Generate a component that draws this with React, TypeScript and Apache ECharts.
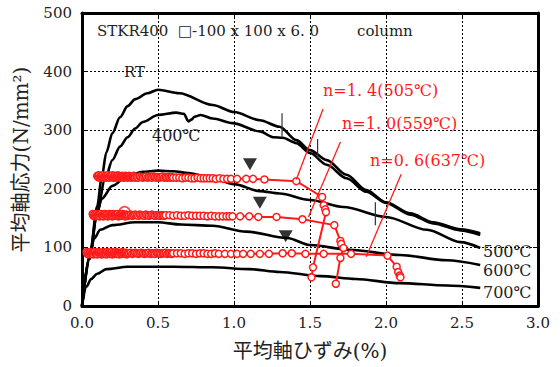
import React, { useEffect, useRef } from "react";
import * as echarts from "echarts";

// ---------- data ----------
const rtX = [0, 0.05, 0.1, 0.13, 0.16, 0.2, 0.25, 0.3, 0.35, 0.43, 0.5, 0.64, 0.86, 1.0, 1.17, 1.3, 1.41, 1.5, 1.61, 1.74, 1.87, 2.0, 2.16, 2.31, 2.49, 2.62];
const rtY = [0, 85, 170, 220, 262, 295, 322, 341, 353, 363, 369, 363, 343, 331, 317, 306, 283, 266, 249, 224, 198, 177, 158, 143, 131, 124];

const t400X = [0, 0.05, 0.1, 0.15, 0.2, 0.25, 0.3, 0.35, 0.4, 0.5, 0.62, 0.67, 0.7, 0.72, 0.74, 0.78, 0.86, 0.99, 1.17, 1.26, 1.32, 1.41, 1.5, 1.61, 1.74, 1.87, 2.0, 2.16, 2.31, 2.49, 2.62];
const t400Y = [0, 80, 160, 215, 249, 272, 288, 303, 314, 326, 330, 328, 315, 318, 323, 326, 320, 312, 298, 288, 287, 278, 261, 241, 218, 195, 176, 156, 141, 129, 121];

const t500X = [0, 0.05, 0.1, 0.13, 0.2, 0.3, 0.4, 0.5, 0.6, 0.7, 0.86, 1.0, 1.17, 1.3, 1.5, 1.72, 2.0, 2.27, 2.49, 2.62];
const t500Y = [0, 85, 160, 183, 205, 222, 229, 231, 230, 227, 218, 208, 196, 192, 181, 169, 152, 130, 109, 99];

const t600X = [0, 0.05, 0.08, 0.12, 0.2, 0.35, 0.5, 0.65, 0.86, 1.08, 1.35, 1.5, 1.76, 2.09, 2.4, 2.62];
const t600Y = [0, 85, 115, 130, 138, 143, 143, 139, 137, 127, 116, 104, 96, 87, 78, 70];

const t700X = [0, 0.03, 0.06, 0.1, 0.16, 0.3, 0.6, 0.86, 1.1, 1.3, 1.57, 1.8, 2.09, 2.4, 2.62];
const t700Y = [0, 33, 46, 55, 63, 67, 67, 66, 63, 58, 51, 46, 39, 35, 31];

// n = 1.4 (505℃)
const n14X = [
  0.100, 0.105, 0.110, 0.115, 0.120, 0.125, 0.130, 0.135, 0.140, 0.145,
  0.150, 0.155, 0.160, 0.165, 0.170, 0.175, 0.180, 0.185, 0.190, 0.195,
  0.200, 0.205, 0.210, 0.215, 0.220, 0.225, 0.230, 0.235, 0.240, 0.245,
  0.250, 0.255, 0.260, 0.265, 0.270, 0.275, 0.280, 0.285, 0.290, 0.295,
  0.300, 0.305, 0.310, 0.315, 0.320, 0.325, 0.330, 0.335, 0.340, 0.345,
  0.350,
  0.36, 0.37, 0.38, 0.39, 0.40, 0.41, 0.42, 0.43, 0.44, 0.45, 0.46, 0.47, 0.48,
  0.49, 0.50, 0.51, 0.52, 0.53, 0.54, 0.55, 0.56, 0.57, 0.58, 0.59, 0.60,
  0.62, 0.64, 0.66, 0.68, 0.70, 0.72, 0.74, 0.76, 0.78, 0.80, 0.82, 0.84, 0.86, 0.88,
  0.905, 0.93, 0.955, 0.98, 1.02, 1.08, 1.125, 1.20, 1.41, 1.58, 1.59, 1.60, 1.605, 1.52, 1.51,
];
const n14Y = [
  222, 220, 223, 219, 221, 222, 220, 223, 219, 221,
  220, 222, 219, 221, 223, 220, 219, 222, 221, 220,
  223, 219, 221, 222, 220, 219, 221, 223, 220, 222,
  219, 221, 220, 222, 221, 219, 220, 222, 221, 220,
  219, 221, 222, 220, 221, 219, 220, 221, 222, 220,
  219,
  220, 219, 221, 220, 219, 220, 221, 219, 220, 220, 219, 221, 220,
  219, 220, 219, 220, 221, 219, 220, 219, 220, 219, 220, 219,
  219, 219, 218, 219, 219, 218, 218, 219, 218, 218, 218, 218, 218, 217,
  218, 217, 217, 217, 217, 217, 217, 216, 213, 186, 172, 165, 160, 66, 49,
];

// n = 1.0 (559℃)
const n10X = [
  0.070, 0.075, 0.080, 0.085, 0.090, 0.095, 0.100, 0.105, 0.110, 0.115,
  0.120, 0.125, 0.130, 0.135, 0.140, 0.145, 0.150, 0.155, 0.160, 0.165,
  0.170, 0.175, 0.180, 0.185, 0.190, 0.195, 0.200, 0.205, 0.210, 0.215,
  0.220, 0.225, 0.230, 0.235, 0.240, 0.245, 0.250, 0.255, 0.260, 0.265,
  0.270, 0.275, 0.280, 0.285, 0.290, 0.295, 0.300,
  0.31, 0.32, 0.33, 0.34, 0.35, 0.36, 0.37, 0.38, 0.39, 0.40, 0.41, 0.42, 0.43,
  0.44, 0.45, 0.46, 0.47, 0.48, 0.49, 0.50, 0.51, 0.52, 0.53, 0.54, 0.55,
  0.575, 0.60, 0.625, 0.65, 0.675, 0.70, 0.725, 0.75, 0.775, 0.80, 0.825, 0.85,
  0.875, 0.90, 0.925, 0.95, 0.97, 0.99,
  1.04, 1.10, 1.16, 1.28, 1.45, 1.66, 1.70, 1.705, 1.72, 1.70, 1.67,
];
const n10Y = [
  157, 154, 156, 153, 155, 157, 154, 156, 155, 153,
  156, 157, 154, 155, 153, 156, 157, 155, 154, 156,
  153, 155, 157, 154, 156, 155, 153, 157, 154, 156,
  155, 154, 156, 157, 153, 155, 156, 154, 155, 157,
  154, 156, 155, 153, 156, 155, 154,
  155, 156, 154, 155, 156, 155, 154, 156, 155, 155, 154, 156, 155,
  154, 155, 156, 155, 154, 155, 155, 154, 155, 155, 154, 155,
  155, 154, 155, 154, 154, 155, 154, 154, 154, 154, 153, 154,
  153, 153, 153, 153, 153, 153,
  153, 153, 152, 152, 148, 138, 111, 106, 99, 82, 38,
];
const n10BigX = [0.28];
const n10BigY = [160];

// n = 0.6 (637℃)
const n06X = [
  0.030, 0.035, 0.040, 0.045, 0.050, 0.055, 0.060, 0.065, 0.070, 0.075,
  0.080, 0.085, 0.090, 0.095, 0.100, 0.105, 0.110, 0.115, 0.120, 0.125,
  0.130, 0.135, 0.140, 0.145, 0.150, 0.155, 0.160, 0.165, 0.170, 0.175,
  0.180, 0.185, 0.190, 0.195, 0.200, 0.205, 0.210, 0.215, 0.220, 0.225,
  0.230, 0.235, 0.240, 0.245, 0.250, 0.255, 0.260, 0.265, 0.270, 0.275,
  0.280, 0.285, 0.290, 0.295, 0.300,
  0.31, 0.32, 0.33, 0.34, 0.35, 0.36, 0.37, 0.38, 0.39, 0.40,
  0.41, 0.42, 0.43, 0.44, 0.45, 0.46, 0.47, 0.48, 0.49, 0.50,
  0.51, 0.52, 0.53, 0.54, 0.55, 0.56, 0.57, 0.58, 0.59, 0.60,
  0.625, 0.65, 0.675, 0.70, 0.725, 0.75, 0.775, 0.80, 0.825, 0.85, 0.875, 0.90,
  0.94, 0.98, 1.02, 1.06, 1.11, 1.17, 1.23, 1.32, 1.38, 1.47, 1.59, 1.77, 2.01, 2.07, 2.08, 2.09, 2.095,
];
const n06Y = [
  92, 89, 91, 88, 90, 92, 89, 91, 90, 88,
  91, 92, 89, 90, 88, 91, 92, 90, 89, 91,
  88, 90, 92, 89, 91, 90, 88, 92, 89, 91,
  90, 89, 91, 92, 88, 90, 91, 89, 90, 92,
  89, 91, 90, 88, 91, 90, 89, 92, 90, 91,
  89, 90, 91, 88, 90,
  90, 91, 89, 90, 91, 90, 89, 90, 91, 90,
  89, 90, 90, 91, 89, 90, 90, 89, 91, 90,
  90, 89, 90, 90, 91, 89, 90, 90, 89, 90,
  90, 90, 89, 90, 90, 89, 90, 90, 89, 89, 90, 89,
  89, 89, 89, 89, 89, 89, 89, 90, 90, 89, 89, 89, 86, 67, 58, 52, 49,
];

// failure markers (inverted triangles)
const triX = [1.105, 1.17, 1.34];
const triY = [242, 176, 119];

// short vertical marks
const vMarkX = [1.316, 1.55, 1.93];
const vMarkY0 = [287, 252, 138];
const vMarkY1 = [329, 285, 177];

// leader lines from labels to curves
const leadX0 = [1.586, 1.70, 2.10];
const leadY0 = [336, 280, 225];
const leadX1 = [1.41, 1.49, 1.87];
const leadY1 = [216, 152, 84];

const zip = (xs: number[], ys: number[]) => xs.map((x, i) => [x, ys[i]]);

const SERIF = "'DejaVu Serif','Liberation Serif','Noto Sans CJK JP',serif";
const RED = "#ff1a1a";
const TXT = "#222";

export default function App() {
  const ref = useRef<HTMLDivElement>(null);
  useEffect(() => {
    if (!ref.current) return;
    const chart = echarts.init(ref.current, undefined, { renderer: "svg" });

    const blackLine = (name: string, xs: number[], ys: number[]) => ({
      name,
      type: "line",
      data: zip(xs, ys),
      showSymbol: false,
      symbol: "none",
      smooth: 0.3,
      smoothMonotone: "x",
      lineStyle: { color: "#000", width: 2.6 },
      z: 3,
    });
    const redLine = (name: string, xs: number[], ys: number[]) => ({
      name,
      type: "line",
      data: zip(xs, ys),
      symbol: "circle",
      symbolSize: 7,
      showAllSymbol: true,
      itemStyle: { color: "#fff", borderColor: RED, borderWidth: 1.5 },
      lineStyle: { color: RED, width: 2 },
      z: 4,
    });

    const vMarks = vMarkX.map((x, i) => ({
      type: "line",
      data: [[x, vMarkY0[i]], [x, vMarkY1[i]]],
      symbol: "none",
      lineStyle: { color: "#333", width: 1.2 },
      z: 3,
    }));
    const leaders = leadX0.map((x, i) => ({
      type: "line",
      data: [[x, leadY0[i]], [leadX1[i], leadY1[i]]],
      symbol: "none",
      lineStyle: { color: RED, width: 1.3 },
      z: 5,
    }));

    const axisLine = { show: true, onZero: false, lineStyle: { color: "#000", width: 3 } };
    const axisTick = { show: true, inside: true, length: 5, lineStyle: { color: "#000", width: 1 } };

    chart.setOption({
      animation: false,
      backgroundColor: "#fff",
      grid: { left: 82, right: 22, top: 13, bottom: 61 },
      xAxis: [
        {
          type: "value",
          min: 0,
          max: 3,
          interval: 0.5,
          axisLine,
          axisTick,
          name: "平均軸ひずみ(%)",
          nameLocation: "middle",
          nameGap: 35,
          nameTextStyle: { fontFamily: SERIF, fontSize: 20, color: TXT },
          axisLabel: {
            margin: 9,
            fontFamily: SERIF,
            fontSize: 15,
            color: TXT,
            formatter: (v: number) => v.toFixed(1),
          },
          splitLine: { show: true, lineStyle: { color: "#000", width: 1, type: [2, 2] } },
        },
        {
          type: "value",
          position: "top",
          min: 0,
          max: 3,
          interval: 0.5,
          axisLine,
          axisTick,
          axisLabel: { show: false },
          splitLine: { show: false },
        },
      ],
      yAxis: [
        {
          type: "value",
          min: 0,
          max: 500,
          interval: 100,
          axisLine,
          axisTick,
          name: "平均軸応力(N/mm²)",
          nameLocation: "middle",
          nameGap: 51,
          nameTextStyle: { fontFamily: SERIF, fontSize: 20, color: TXT },
          axisLabel: { margin: 10, fontFamily: SERIF, fontSize: 15, color: TXT },
          splitLine: { show: true, lineStyle: { color: "#000", width: 1, type: [2, 2] } },
        },
        {
          type: "value",
          position: "right",
          min: 0,
          max: 500,
          interval: 100,
          axisLine,
          axisTick,
          axisLabel: { show: false },
          splitLine: { show: false },
        },
      ],
      series: [
        blackLine("RT", rtX, rtY),
        blackLine("400℃", t400X, t400Y),
        blackLine("500℃", t500X, t500Y),
        blackLine("600℃", t600X, t600Y),
        blackLine("700℃", t700X, t700Y),
        ...vMarks,
        redLine("n=1.4", n14X, n14Y),
        redLine("n=1.0", n10X, n10Y),
        redLine("n=0.6", n06X, n06Y),
        {
          type: "scatter",
          data: zip(n10BigX, n10BigY),
          symbol: "circle",
          symbolSize: 11,
          itemStyle: { color: "rgba(255,255,255,0)", borderColor: RED, borderWidth: 1.6 },
          z: 5,
        },
        ...leaders,
        {
          type: "scatter",
          data: zip(triX, triY),
          symbol: "triangle",
          symbolRotate: 180,
          symbolSize: [14, 12],
          itemStyle: { color: "#000" },
          z: 6,
        },
      ],
      graphic: [
        { type: "text", left: 97, top: 23, style: { text: "STKR400  □-100 x 100 x 6. 0", fontFamily: SERIF, fontSize: 15, fill: TXT } },
        { type: "text", left: 357, top: 23, style: { text: "column", fontFamily: SERIF, fontSize: 15, fill: TXT } },
        { type: "text", left: 124, top: 64, style: { text: "RT", fontFamily: SERIF, fontSize: 15, fill: TXT, backgroundColor: "#fff" } },
        { type: "text", left: 152, top: 127, style: { text: "400℃", fontFamily: SERIF, fontSize: 16, fill: TXT } },
        { type: "text", left: 323, top: 82, style: { text: "n=1. 4(505℃)", fontFamily: SERIF, fontSize: 16, fill: RED } },
        { type: "text", left: 342, top: 115, style: { text: "n=1. 0(559℃)", fontFamily: SERIF, fontSize: 16, fill: RED } },
        { type: "text", left: 370, top: 152, style: { text: "n=0. 6(637℃)", fontFamily: SERIF, fontSize: 16, fill: RED } },
        { type: "text", left: 483, top: 243, style: { text: "500℃", fontFamily: SERIF, fontSize: 16, fill: TXT, backgroundColor: "#fff" } },
        { type: "text", left: 483, top: 262, style: { text: "600℃", fontFamily: SERIF, fontSize: 16, fill: TXT, backgroundColor: "#fff" } },
        { type: "text", left: 483, top: 284, style: { text: "700℃", fontFamily: SERIF, fontSize: 16, fill: TXT, backgroundColor: "#fff" } },
      ],
    });
    return () => chart.dispose();
  }, []);
  return <div ref={ref} style={{ position: "absolute", left: 0, top: 0, width: 560, height: 367 }} />;
}
